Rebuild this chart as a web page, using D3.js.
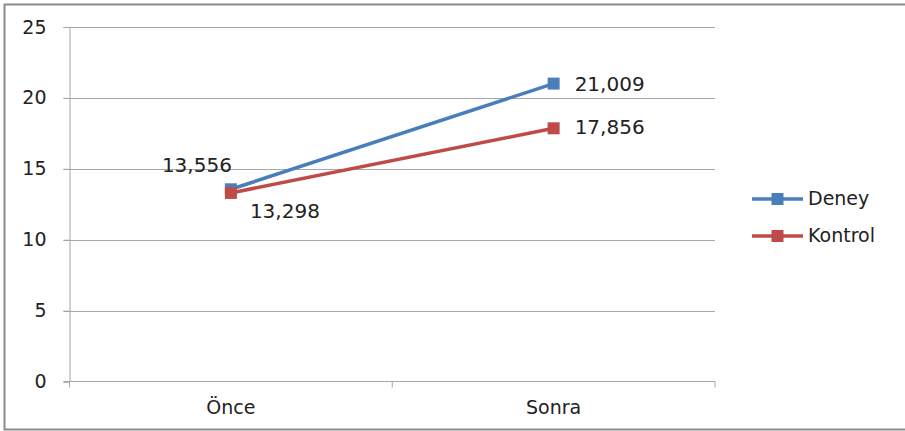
<!DOCTYPE html>
<html>
<head>
<meta charset="utf-8">
<script src="https://cdn.jsdelivr.net/npm/d3@7"></script>
<style>
  body { margin: 0; background: #fff; }
  svg text { font-family: "DejaVu Sans", Verdana, sans-serif; fill: #222; }
</style>
</head>
<body>
<div id="vis"></div>
<script>
// chart data
var categories = ['Önce', 'Sonra'];
var seriesNames = ['Deney', 'Kontrol'];
var deneyValues = [13.556, 21.009];
var kontrolValues = [13.298, 17.856];
var yTicks = [0, 5, 10, 15, 20, 25];
var labelText = [['13,556', '21,009'], ['13,298', '17,856']];

var width = 905;
var height = 431;
var colors = ['#4A7EBB', '#BE4B48'];

var svg = d3.select('#vis').append('svg')
  .attr('width', width)
  .attr('height', height);

// outer frame (no right side visible)
svg.append('path')
  .attr('d', 'M905,4.5 H4.5 V429.5 H905')
  .attr('fill', 'none')
  .attr('stroke', '#8a8a8a')
  .attr('stroke-width', 2);

var plot = { left: 69.5, right: 715, top: 27, bottom: 381.5 };

var x = d3.scaleBand().domain(categories).range([plot.left, plot.right]);
var y = d3.scaleLinear().domain([0, 25]).range([plot.bottom, plot.top]);

// gridlines
svg.selectAll('.grid')
  .data(yTicks.filter(function (d) { return d > 0; }))
  .enter().append('line')
  .attr('class', 'grid')
  .attr('x1', plot.left - 6).attr('x2', plot.right)
  .attr('y1', function (d) { return Math.round(y(d)) + 0.5; })
  .attr('y2', function (d) { return Math.round(y(d)) + 0.5; })
  .attr('stroke', '#a6a6a6');

// y axis
var yAxis = svg.append('g')
  .attr('transform', 'translate(' + plot.left + ',0)')
  .call(d3.axisLeft(y).tickValues(yTicks).tickSize(6).tickPadding(17));
yAxis.select('.domain').attr('stroke', '#a6a6a6');
yAxis.selectAll('.tick line').attr('stroke', '#a6a6a6');
yAxis.selectAll('text').style('font-size', '19px').attr('fill', '#222');

// x axis
var xAxis = svg.append('g')
  .attr('transform', 'translate(0,' + plot.bottom + ')');
xAxis.append('line')
  .attr('x1', plot.left - 6).attr('x2', plot.right)
  .attr('stroke', '#a6a6a6');
var xTickPos = [plot.left, (plot.left + plot.right) / 2, plot.right];
xAxis.selectAll('.xt')
  .data(xTickPos)
  .enter().append('line')
  .attr('x1', function (d) { return d; }).attr('x2', function (d) { return d; })
  .attr('y1', 0).attr('y2', 6)
  .attr('stroke', '#a6a6a6');
xAxis.selectAll('.xl')
  .data(categories)
  .enter().append('text')
  .attr('x', function (d) { return x(d) + x.bandwidth() / 2; })
  .attr('y', 32)
  .attr('text-anchor', 'middle')
  .style('font-size', '19px')
  .text(function (d) { return d; });

// series
var series = [deneyValues, kontrolValues];
var line = d3.line()
  .x(function (d, i) { return x(categories[i]) + x.bandwidth() / 2; })
  .y(function (d) { return y(d); });

[0, 1].forEach(function (s) {
  svg.append('path')
    .datum(series[s])
    .attr('d', line)
    .attr('fill', 'none')
    .attr('stroke', colors[s])
    .attr('stroke-width', 3.5);
});
[0, 1].forEach(function (s) {
  svg.selectAll('.m' + s)
    .data(series[s])
    .enter().append('rect')
    .attr('x', function (d, i) { return x(categories[i]) + x.bandwidth() / 2 - 6; })
    .attr('y', function (d) { return y(d) - 6; })
    .attr('width', 12).attr('height', 12)
    .attr('fill', colors[s]);
});

// data labels
var labelOffsets = [
  [{ dx: 1, dy: -17, anchor: 'end' }, { dx: 21, dy: 7, anchor: 'start' }],
  [{ dx: 19, dy: 25, anchor: 'start' }, { dx: 21, dy: 6, anchor: 'start' }]
];
[0, 1].forEach(function (s) {
  series[s].forEach(function (v, i) {
    var o = labelOffsets[s][i];
    svg.append('text')
      .attr('x', x(categories[i]) + x.bandwidth() / 2 + o.dx)
      .attr('y', y(v) + o.dy)
      .attr('text-anchor', o.anchor)
      .style('font-size', '20px')
      .text(labelText[s][i]);
  });
});

// legend
var legend = svg.append('g');
seriesNames.forEach(function (name, s) {
  var ly = 199 + s * 37;
  legend.append('line')
    .attr('x1', 752).attr('x2', 803)
    .attr('y1', ly).attr('y2', ly)
    .attr('stroke', colors[s]).attr('stroke-width', 3.5);
  legend.append('rect')
    .attr('x', 771.5).attr('y', ly - 6)
    .attr('width', 12).attr('height', 12)
    .attr('fill', colors[s]);
  legend.append('text')
    .attr('x', 808).attr('y', ly + 6)
    .style('font-size', '19px')
    .text(name);
});
</script>
</body>
</html>
